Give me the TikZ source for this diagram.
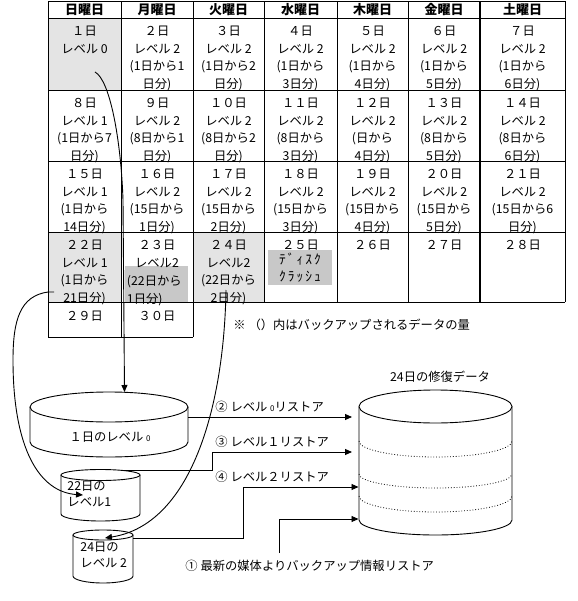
\documentclass[tikz,border=0pt]{standalone}
\usepackage{fontspec}
\setmainfont{Noto Sans CJK JP}
\usetikzlibrary{arrows.meta}
\definecolor{shadeA}{RGB}{228,228,228}
\definecolor{shadeB}{RGB}{200,200,200}
\newcommand{\smz}{{\fontsize{8}{8}\selectfont 0}}
\begin{document}
\begin{tikzpicture}[x=1pt,y=-1pt, line width=0.9pt,
  cell/.style={font=\fontsize{12.3}{17.7}\selectfont, align=center, anchor=north, inner sep=0pt},
  hdr/.style={font=\fontsize{13}{13}\selectfont\bfseries, inner sep=0pt},
  lbl/.style={font=\fontsize{12.3}{12}\selectfont, inner sep=0pt, anchor=west},
  cyltext/.style={font=\fontsize{12.3}{16.5}\selectfont, inner sep=0pt, align=left, anchor=north west},
  arr/.style={-{Triangle[length=7pt,width=6pt]}},
  thick line/.style={line width=2pt},
]
\useasboundingbox (0,0) rectangle (577,601);
% shading
\fill[shadeA] (48,18) rectangle (121,90);
\fill[shadeA] (48,232) rectangle (121,302);
\fill[shadeA] (193,232) rectangle (264,302);
\fill[shadeB] (125,266) rectangle (188,302);
% grid
\draw (48,1.5) -- (565,1.5);
\draw (48,18) -- (565,18);
\draw (48,90) -- (565,90);
\draw (48,161) -- (565,161);
\draw (48,232) -- (565,232);
\draw (48,302) -- (565,302);
\draw (48,337) -- (193,337);
\draw (48,1.5) -- (48,337);
\draw (121,1.5) -- (121,337);
\draw (193,1.5) -- (193,337);
\draw (264,1.5) -- (264,302);
\draw (337,1.5) -- (337,302);
\draw (408,1.5) -- (408,302);
\draw[thick line] (480,1.5) -- (480,302);
\draw (565,1.5) -- (565,302);
% header
\node[hdr] (h1) at (84.5,10) {日曜日};
\node[hdr] (h2) at (157,10) {月曜日};
\node[hdr] (h3) at (228.5,10) {火曜日};
\node[hdr] (h4) at (300.5,10) {水曜日};
\node[hdr] (h5) at (372.5,10) {木曜日};
\node[hdr] (h6) at (444,10) {金曜日};
\node[hdr] (h7) at (522.5,10) {土曜日};
% row 1
\node[cell] (d1) at (84.5,25.5) {１日\\レベル 0};
\node[cell] (d2) at (157,25.5) {２日\\レベル 2\\(1日から1\\日分)};
\node[cell] (d3) at (228.5,25.5) {３日\\レベル 2\\(1日から2\\日分)};
\node[cell] (d4) at (300.5,25.5) {４日\\レベル 2\\(1日から\\3日分)};
\node[cell] (d5) at (372.5,25.5) {５日\\レベル 2\\(1日から\\4日分)};
\node[cell] (d6) at (444,25.5) {６日\\レベル 2\\(1日から\\5日分)};
\node[cell] (d7) at (522.5,25.5) {７日\\レベル 2\\(1日から\\6日分)};
% row 2
\node[cell] (d8) at (84.5,97.5) {８日\\レベル 1\\(1日から7\\日分)};
\node[cell] (d9) at (157,97.5) {９日\\レベル 2\\(8日から1\\日分)};
\node[cell] (d10) at (228.5,97.5) {１０日\\レベル 2\\(8日から2\\日分)};
\node[cell] (d11) at (300.5,97.5) {１１日\\レベル 2\\(8日から\\3日分)};
\node[cell] (d12) at (372.5,97.5) {１２日\\レベル 2\\(日から\\4日分)};
\node[cell] (d13) at (444,97.5) {１３日\\レベル 2\\(8日から\\5日分)};
\node[cell] (d14) at (522.5,97.5) {１４日\\レベル 2\\(8日から\\6日分)};
% row 3
\node[cell] (d15) at (84.5,168.5) {１５日\\レベル 1\\(1日から\\14日分)};
\node[cell] (d16) at (157,168.5) {１６日\\レベル 2\\(15日から\\1日分)};
\node[cell] (d17) at (228.5,168.5) {１７日\\レベル 2\\(15日から\\2日分)};
\node[cell] (d18) at (300.5,168.5) {１８日\\レベル 2\\(15日から\\3日分)};
\node[cell] (d19) at (372.5,168.5) {１９日\\レベル 2\\(15日から\\4日分)};
\node[cell] (d20) at (444,168.5) {２０日\\レベル 2\\(15日から\\5日分)};
\node[cell] (d21) at (522.5,168.5) {２１日\\レベル 2\\(15日から6\\日分)};
% row 4
\node[cell] (d22) at (84.5,239.5) {２２日\\レベル 1\\(1日から\\21日分)};
\node[cell] (d23) at (157,239.5) {２３日\\レベル2};
\node[cell, align=left, anchor=north west] (d23b) at (126.5,274.9) {(22日から\\1日分)};
\node[cell] (d24) at (228.5,239.5) {２４日\\レベル2\\(22日から\\2日分)};
\node[cell] (d25) at (300.5,239.5) {２５日};
\node[fill=shadeB, minimum width=64pt, minimum height=35pt, inner sep=0pt,
      font=\fontsize{13.5}{16.5}\selectfont\addfontfeatures{LetterSpace=15}, align=center] (crash) at (300,267.5) {ﾃﾞｨｽｸ\\ｸﾗｯｼｭ};
\node[cell] (d26) at (372.5,239.5) {２６日};
\node[cell] (d27) at (444,239.5) {２７日};
\node[cell] (d28) at (522.5,239.5) {２８日};
% row 5
\node[cell] (d29) at (84.5,310.5) {２９日};
\node[cell] (d30) at (157,310.5) {３０日};
% note
\node[lbl] (note) at (233,325) {※ （）内はバックアップされるデータの量};
% cylinder 1
\draw (30,407) -- (30,442) arc[start angle=180,end angle=360,x radius=79pt,y radius=15pt] -- (188,407);
\draw (109,407) ellipse [x radius=79pt, y radius=15pt];
\node[font=\fontsize{12.3}{12}\selectfont, inner sep=0pt] (c1lab) at (110,437) {１日のレベル \smz};
% cylinder 2
\draw (61,475) -- (61,514) arc[start angle=180,end angle=360,x radius=39.5pt,y radius=7pt] -- (140,475);
\draw (100.5,475) ellipse [x radius=39.5pt, y radius=5.5pt];
\node[cyltext] (c2lab) at (67,480.5) {22日の\\レベル1};
% cylinder 3
\draw (73,535) -- (73,576) arc[start angle=180,end angle=360,x radius=30pt,y radius=7pt] -- (133,535);
\draw (103,535) ellipse [x radius=30pt, y radius=5pt];
\node[cyltext] (c3lab) at (80,541.5) {24日の\\レベル 2};
% big cylinder
\draw (359,406.5) -- (359,520) arc[start angle=180,end angle=360,x radius=76.5pt,y radius=15pt] -- (512,406.5);
\draw (435.5,406.5) ellipse [x radius=76.5pt, y radius=16.5pt];
\draw[dotted, line width=0.8pt] (359,441) arc[start angle=180,end angle=360,x radius=76.5pt,y radius=16pt];
\draw[dotted, line width=0.8pt] (359,474) arc[start angle=180,end angle=360,x radius=76.5pt,y radius=14pt];
\draw[dotted, line width=0.8pt] (359,496) arc[start angle=180,end angle=360,x radius=76.5pt,y radius=16pt];
\node[font=\fontsize{12.3}{12}\selectfont, inner sep=0pt] (bigl) at (440,377) {24日の修復データ};
% coordinates
\coordinate (s1) at (95,72);
\coordinate (s22) at (54,292);
\coordinate (s24) at (226,290);
\coordinate (c1t) at (124.5,392);
\coordinate (c1r) at (188,417);
\coordinate (c2t) at (125,470);
\coordinate (c2in) at (83,495);
\coordinate (c3t) at (133,538);
\coordinate (c3in) at (105,538);
\coordinate (bigA) at (352,417);
\coordinate (bigB) at (352,452);
\coordinate (bigC) at (358.5,487);
\coordinate (bigD) at (358.5,519);
\coordinate (one) at (279,553);
% connectors
\draw[arr] (s1) .. controls (110,80) and (121,140) .. (123,200) -- (c1t);
\draw[arr] (s22) -- (48,292) .. controls (20,296) and (13,320) .. (13,360) .. controls (13,450) and (40,492) .. (c2in);
\draw[arr] (s24) .. controls (224,410) and (190,525) .. (c3in);
\draw[arr] (c1r) -- (bigA);
\draw[arr] (c2t) -- ++(87,0) |- (bigB);
\draw[arr] (c3t) -- ++(110,0) |- (bigC);
\draw[arr] (one) |- (bigD);
% labels
\node[lbl] (l2) at (215,407) {② レベル \smz リストア};
\node[lbl] (l3) at (215,442) {③ レベル１リストア};
\node[lbl] (l4) at (215,477) {④ レベル２リストア};
\node[lbl] (l1) at (185,566) {① 最新の媒体よりバックアップ情報リストア};
\end{tikzpicture}
\end{document}
